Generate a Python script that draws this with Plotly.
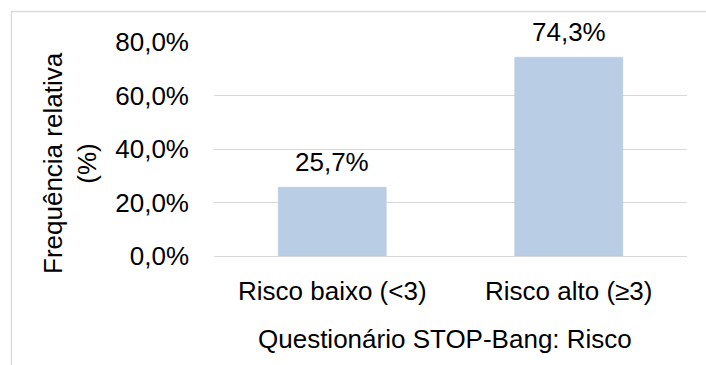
import plotly.graph_objects as go

categories = ["Risco baixo (<3)", "Risco alto (≥3)"]
values = [0.257, 0.743]
y_ticks = [0.0, 0.2, 0.4, 0.6, 0.8]
y_tick_labels = ["0,0%", "20,0%", "40,0%", "60,0%", "80,0%"]
x_title = "Questionário STOP-Bang: Risco"
y_title = "Frequência relativa<br>(%)"

FONT = "Liberation Sans, Arial, sans-serif"
TXT = "#000000"

W, H = 706, 365
L, R, T, B = 214, 19, 42, 109
pw, ph = W - L - R, H - T - B

def px_to_paper_x(px):
    return (px - L) / pw

def px_to_paper_y(py):
    return (H - B - py) / ph

fig = go.Figure()
fig.add_trace(go.Bar(
    x=categories, y=values,
    marker=dict(color="#B9CDE5", line=dict(color="#B3C8E2", width=0.5)),
    width=0.457,
    hoverinfo="skip",
))

annotations = []
for c, v in zip(categories, values):
    annotations.append(dict(
        x=c, y=v, xref="x", yref="y",
        text=f"{v*100:.1f}".replace(".", ",") + "%",
        showarrow=False, yanchor="middle", yshift=25,
        font=dict(family=FONT, size=26, color=TXT),
    ))
annotations.append(dict(
    x=px_to_paper_x(445), y=px_to_paper_y(339), xref="paper", yref="paper",
    text=x_title, showarrow=False, xanchor="center", yanchor="middle",
    font=dict(family=FONT, size=26, color=TXT),
))
annotations.append(dict(
    x=px_to_paper_x(70), y=px_to_paper_y(163), xref="paper", yref="paper",
    text=y_title, showarrow=False, xanchor="center", yanchor="middle",
    textangle=-90,
    font=dict(family=FONT, size=26, color=TXT),
))

fig.update_layout(
    width=W, height=H,
    margin=dict(l=L, r=R, t=T, b=B, pad=0),
    paper_bgcolor="white", plot_bgcolor="white",
    showlegend=False,
    bargap=0.543,
    annotations=annotations,
    shapes=[dict(
        type="rect", xref="paper", yref="paper",
        x0=px_to_paper_x(11.5), x1=px_to_paper_x(760),
        y0=px_to_paper_y(420), y1=px_to_paper_y(11.5),
        line=dict(color="#D9D9D9", width=1.3), fillcolor="rgba(0,0,0,0)",
        layer="below",
    )],
)
fig.update_xaxes(
    showgrid=False, showline=True, linecolor="#D9D9D9", linewidth=1.3,
    ticks="", ticklabelstandoff=12,
    tickfont=dict(family=FONT, size=26, color=TXT),
    fixedrange=True,
)
fig.update_yaxes(
    range=[0, 0.8], tickvals=y_ticks, ticktext=y_tick_labels,
    showgrid=True, gridcolor="#D9D9D9", gridwidth=1.3,
    zeroline=False, showline=False, ticks="", ticklabelstandoff=24,
    tickfont=dict(family=FONT, size=26, color=TXT),
    fixedrange=True,
)

fig.write_html("out.html", config={"displayModeBar": False})
